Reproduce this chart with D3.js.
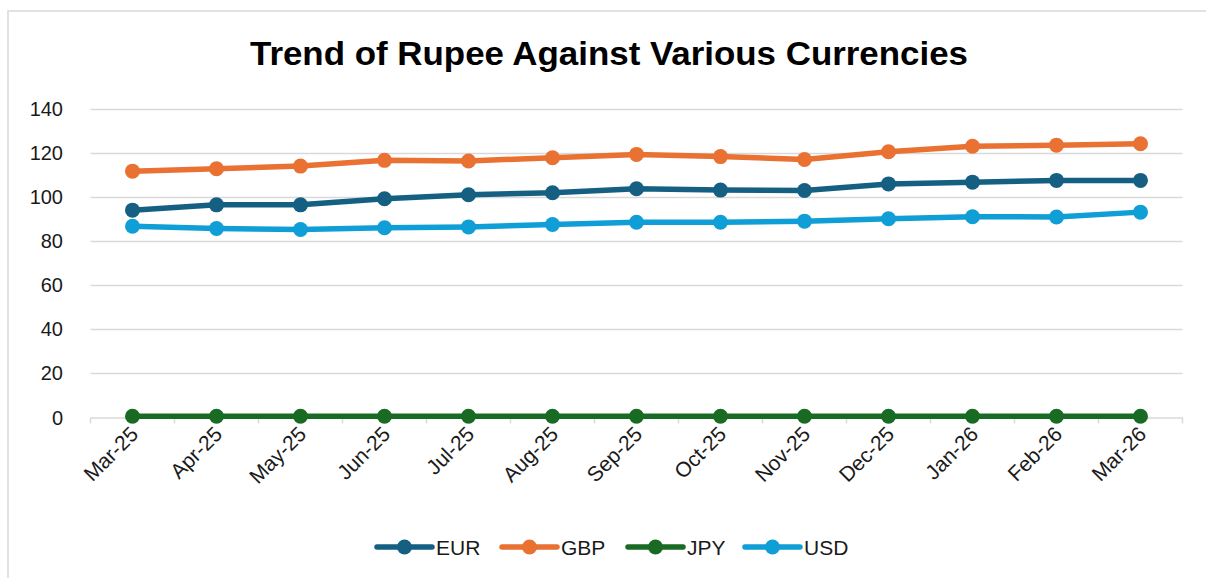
<!DOCTYPE html>
<html>
<head>
<meta charset="utf-8">
<script src="https://cdn.jsdelivr.net/npm/d3@7"></script>
<style>
  body { margin: 0; background: #fff; }
  svg { display: block; font-family: "Liberation Sans", Arial, sans-serif; }
</style>
</head>
<body>
<div id="chart"></div>
<script>
// data
var months = ["Mar-25", "Apr-25", "May-25", "Jun-25", "Jul-25", "Aug-25", "Sep-25",
              "Oct-25", "Nov-25", "Dec-25", "Jan-26", "Feb-26", "Mar-26"];
var eur = [94.1, 96.5, 96.5, 99.3, 101.1, 102.0, 103.8, 103.2, 103.0, 106.0, 106.8, 107.6, 107.6];
var gbp = [111.8, 112.9, 114.1, 116.7, 116.4, 117.9, 119.4, 118.4, 117.1, 120.6, 123.1, 123.6, 124.2];
var jpy = [0.58, 0.58, 0.58, 0.59, 0.58, 0.58, 0.59, 0.58, 0.57, 0.57, 0.58, 0.58, 0.59];
var usd = [86.8, 85.8, 85.3, 86.1, 86.5, 87.6, 88.6, 88.6, 89.1, 90.2, 91.1, 91.0, 93.2];
var yTicks = [0, 20, 40, 60, 80, 100, 120, 140];

var series = [
    {name: "EUR", values: eur, color: "#156082"},
    {name: "GBP", values: gbp, color: "#E97132"},
    {name: "JPY", values: jpy, color: "#196B24"},
    {name: "USD", values: usd, color: "#0F9ED5"}
];

var width = 1206;
var height = 578;
var plotLeft = 90.5, plotRight = 1182.5, plotTop = 109, plotBottom = 417.5;

var svg = d3.select("#chart").append("svg")
    .attr("width", width)
    .attr("height", height);

// chart frame
svg.append("rect")
    .attr("x", 8).attr("y", 11)
    .attr("width", 1220).attr("height", 600)
    .attr("fill", "#fff")
    .attr("stroke", "#d9d9d9")
    .attr("stroke-width", 1.5);

svg.append("text")
    .attr("x", 609).attr("y", 65)
    .attr("text-anchor", "middle")
    .attr("font-size", 33)
    .attr("font-weight", "bold")
    .attr("textLength", 718)
    .attr("lengthAdjust", "spacingAndGlyphs")
    .attr("fill", "#000")
    .text("Trend of Rupee Against Various Currencies");

//
// Scales
//
var x = d3.scaleBand().domain(months).range([plotLeft, plotRight]);
var y = d3.scaleLinear().domain([0, 140]).range([plotBottom, plotTop]);
var cx = function(i) { return x(months[i]) + x.bandwidth() / 2; };

// gridlines
svg.append("g")
    .selectAll("line")
    .data(yTicks.slice(1))
    .join("line")
    .attr("x1", plotLeft).attr("x2", plotRight)
    .attr("y1", function(d) { return Math.round(y(d)) + 0.5; })
    .attr("y2", function(d) { return Math.round(y(d)) + 0.5; })
    .attr("stroke", "#d9d9d9")
    .attr("stroke-width", 1.5);

// y labels
svg.append("g")
    .selectAll("text")
    .data(yTicks)
    .join("text")
    .attr("x", 63)
    .attr("y", function(d) { return y(d) + 7; })
    .attr("text-anchor", "end")
    .attr("font-size", 20)
    .attr("fill", "#1a1a1a")
    .text(function(d) { return d; });

// x axis
var xAxis = svg.append("g")
    .attr("transform", "translate(0," + plotBottom + ")")
    .call(d3.axisBottom(x).tickSize(0).tickFormat(""));
xAxis.select(".domain").attr("stroke", "#d9d9d9").attr("stroke-width", 1.5);

var tickPos = months.map(function(m) { return x(m); }).concat([plotRight]);
svg.append("g")
    .selectAll("line")
    .data(tickPos)
    .join("line")
    .attr("x1", function(d) { return d; }).attr("x2", function(d) { return d; })
    .attr("y1", plotBottom).attr("y2", plotBottom + 6)
    .attr("stroke", "#d9d9d9")
    .attr("stroke-width", 1.5);

svg.append("g")
    .selectAll("text")
    .data(months)
    .join("text")
    .attr("transform", function(d, i) {
        return "translate(" + (cx(i) + 7) + "," + (plotBottom + 18) + ") rotate(-45)";
    })
    .attr("text-anchor", "end")
    .attr("font-size", 21)
    .attr("fill", "#1a1a1a")
    .text(function(d) { return d; });

// lines
var line = d3.line()
    .x(function(d, i) { return cx(i); })
    .y(function(d) { return y(d); });

series.forEach(function(s) {
    var g = svg.append("g");
    g.append("path")
        .datum(s.values)
        .attr("fill", "none")
        .attr("stroke", s.color)
        .attr("stroke-width", 5.5)
        .attr("stroke-linejoin", "round")
        .attr("d", line);
    g.selectAll("circle")
        .data(s.values)
        .join("circle")
        .attr("cx", function(d, i) { return cx(i); })
        .attr("cy", function(d) { return y(d); })
        .attr("r", 7.5)
        .attr("fill", s.color);
});

// legend
var legendX = [377, 502, 628, 745];
var leg = svg.append("g")
    .selectAll("g")
    .data(series)
    .join("g")
    .attr("transform", function(d, i) { return "translate(" + legendX[i] + ",547)"; });
leg.append("line")
    .attr("x1", 0).attr("x2", 55)
    .attr("stroke", function(d) { return d.color; })
    .attr("stroke-width", 5.5)
    .attr("stroke-linecap", "round");
leg.append("circle")
    .attr("cx", 27.5).attr("r", 7.5)
    .attr("fill", function(d) { return d.color; });
leg.append("text")
    .attr("x", 59).attr("y", 7.5)
    .attr("font-size", 21)
    .attr("fill", "#1a1a1a")
    .text(function(d) { return d.name; });
</script>
</body>
</html>
